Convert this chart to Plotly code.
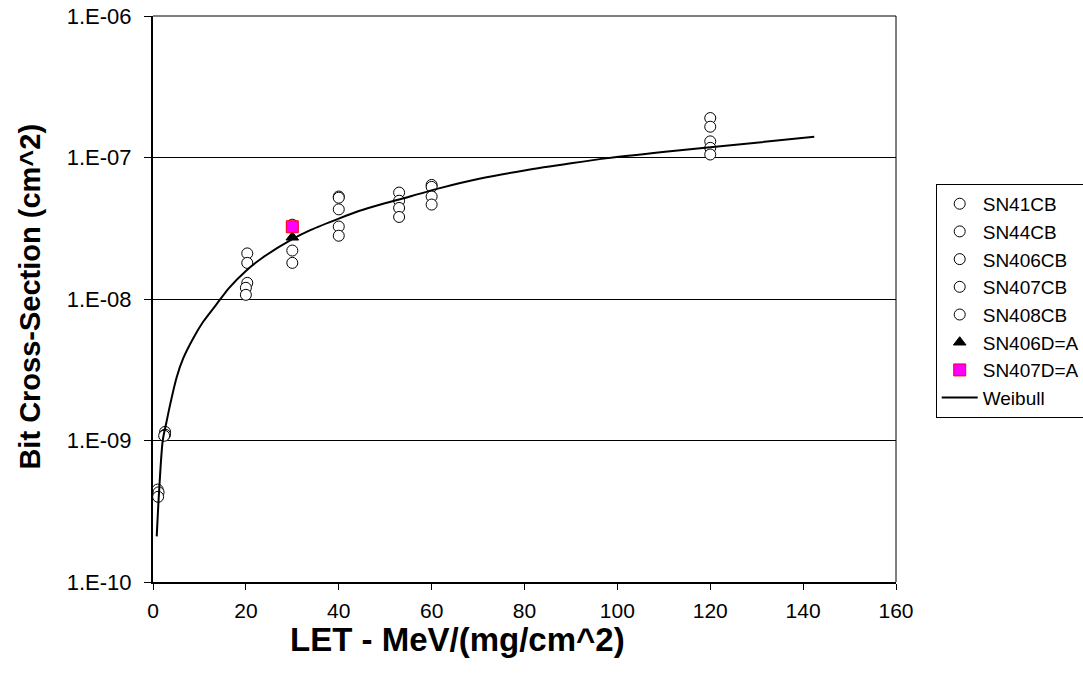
import plotly.graph_objects as go

# ---- data ----
sn41_x = [1.0, 2.6, 20.3, 30.0, 40.0, 53.0, 60.0, 120.0]
sn41_y = [4.5e-10, 1.15e-9, 2.1e-8, 2.2e-8, 5.3e-8, 5.65e-8, 6.4e-8, 1.9e-7]

sn44_x = [1.2, 2.6, 20.3, 30.0, 40.0, 53.0, 60.0, 120.0]
sn44_y = [4.3e-10, 1.1e-9, 1.8e-8, 1.8e-8, 5.2e-8, 4.95e-8, 6.2e-8, 1.65e-7]

sn406_x = [1.1, 2.4, 20.3, 40.0, 53.0, 60.0, 120.0]
sn406_y = [4.0e-10, 1.08e-9, 1.3e-8, 4.3e-8, 4.4e-8, 5.3e-8, 1.3e-7]

sn407_x = [20.0, 30.0, 40.0, 53.0, 60.0, 120.0]
sn407_y = [1.2e-8, 3.35e-8, 3.25e-8, 3.8e-8, 4.65e-8, 1.17e-7]

sn408_x = [20.0, 40.0, 120.0]
sn408_y = [1.07e-8, 2.8e-8, 1.05e-7]

sn406d_x = [30.0]
sn406d_y = [2.73e-8]

sn407d_x = [30.0]
sn407d_y = [3.24e-8]

weibull_x = [0.8, 1.3, 2.1, 2.9, 3.7, 5.1, 6.5, 8.7, 10.8, 13.7, 16.4, 20.0, 23.5,
             30.0, 34.0, 40.0, 44.5, 49.0, 53.0, 62.0, 70.5, 80.0, 90.0, 98.0,
             113.0, 120.0, 142.4]
weibull_y = [2.1e-10, 4.3e-10, 1.0e-9, 1.35e-9, 1.8e-9, 2.8e-9, 3.8e-9, 5.3e-9, 6.9e-9,
             9.2e-9, 1.2e-8, 1.58e-8, 1.95e-8, 2.65e-8, 3.08e-8, 3.7e-8, 4.2e-8, 4.65e-8,
             5.05e-8, 6.1e-8, 7.1e-8, 8.1e-8, 9.1e-8, 9.9e-8, 1.12e-7, 1.18e-7, 1.4e-7]

x_ticks = [0, 20, 40, 60, 80, 100, 120, 140, 160]
y_ticks = [1e-10, 1e-9, 1e-8, 1e-7, 1e-6]
y_ticktext = ["1.E-10", "1.E-09", "1.E-08", "1.E-07", "1.E-06"]

FONT = "Liberation Sans, Arial, sans-serif"

circle = dict(symbol="circle", size=11, color="white", line=dict(color="black", width=1))

fig = go.Figure()
for name, xs, ys in [("SN41CB", sn41_x, sn41_y), ("SN44CB", sn44_x, sn44_y),
                     ("SN406CB", sn406_x, sn406_y), ("SN407CB", sn407_x, sn407_y),
                     ("SN408CB", sn408_x, sn408_y)]:
    fig.add_trace(go.Scatter(x=xs, y=ys, mode="markers", name=name, marker=circle))

fig.add_trace(go.Scatter(x=sn406d_x, y=sn406d_y, mode="markers", name="SN406D=A",
                         marker=dict(symbol="triangle-up", size=11, color="black",
                                     line=dict(color="black", width=1))))
fig.add_trace(go.Scatter(x=sn407d_x, y=sn407d_y, mode="markers", name="SN407D=A",
                         marker=dict(symbol="square", size=12, color="#ff00ff",
                                     line=dict(color="#ff0000", width=1))))
fig.add_trace(go.Scatter(x=weibull_x, y=weibull_y, mode="lines", name="Weibull",
                         line=dict(color="black", width=2, shape="spline", smoothing=0.8)))

fig.update_layout(
    width=1083, height=681,
    paper_bgcolor="white", plot_bgcolor="white",
    margin=dict(l=153, r=187, t=16, b=99, autoexpand=False),
    font=dict(family=FONT, color="black"),
    showlegend=True,
    legend=dict(xref="container", yref="container", x=0.864, y=0.730,
                xanchor="left", yanchor="top",
                bgcolor="white", bordercolor="black", borderwidth=1,
                font=dict(family=FONT, size=19, color="black"),
                tracegroupgap=0, itemwidth=36),
    xaxis=dict(range=[0, 160], tickvals=x_ticks, ticks="outside", ticklen=6,
               tickcolor="black", showline=True, linecolor="black", linewidth=2,
               showgrid=False, zeroline=False, automargin=False,
               ticklabelstandoff=3,
               tickfont=dict(family=FONT, size=21, color="black")),
    yaxis=dict(type="log", range=[-10, -6], tickvals=y_ticks, ticktext=y_ticktext,
               ticks="outside", ticklen=7, tickcolor="black", showline=True,
               linecolor="black", linewidth=2, showgrid=True, gridcolor="black",
               gridwidth=1, zeroline=False, automargin=False,
               ticklabelstandoff=8,
               tickfont=dict(family=FONT, size=22, color="black")),
    shapes=[dict(type="line", xref="paper", yref="paper", x0=0, x1=1, y0=1, y1=1,
                 line=dict(color="black", width=1)),
            dict(type="line", xref="paper", yref="paper", x0=1, x1=1, y0=0, y1=1,
                 line=dict(color="black", width=1))],
    annotations=[
        dict(text="<b>LET - MeV/(mg/cm^2)</b>", xref="paper", yref="paper",
             x=0.41, y=-0.102, xanchor="center", yanchor="middle", showarrow=False,
             font=dict(family=FONT, size=33, color="black")),
        dict(text="<b>Bit Cross-Section (cm^2)</b>", xref="paper", yref="paper",
             x=-0.165, y=0.505, xanchor="center", yanchor="middle", showarrow=False,
             textangle=-90, font=dict(family=FONT, size=29, color="black")),
    ],
)

fig.write_html("out.html", config={"displayModeBar": False},
               post_script="document.body.style.margin='0';")
